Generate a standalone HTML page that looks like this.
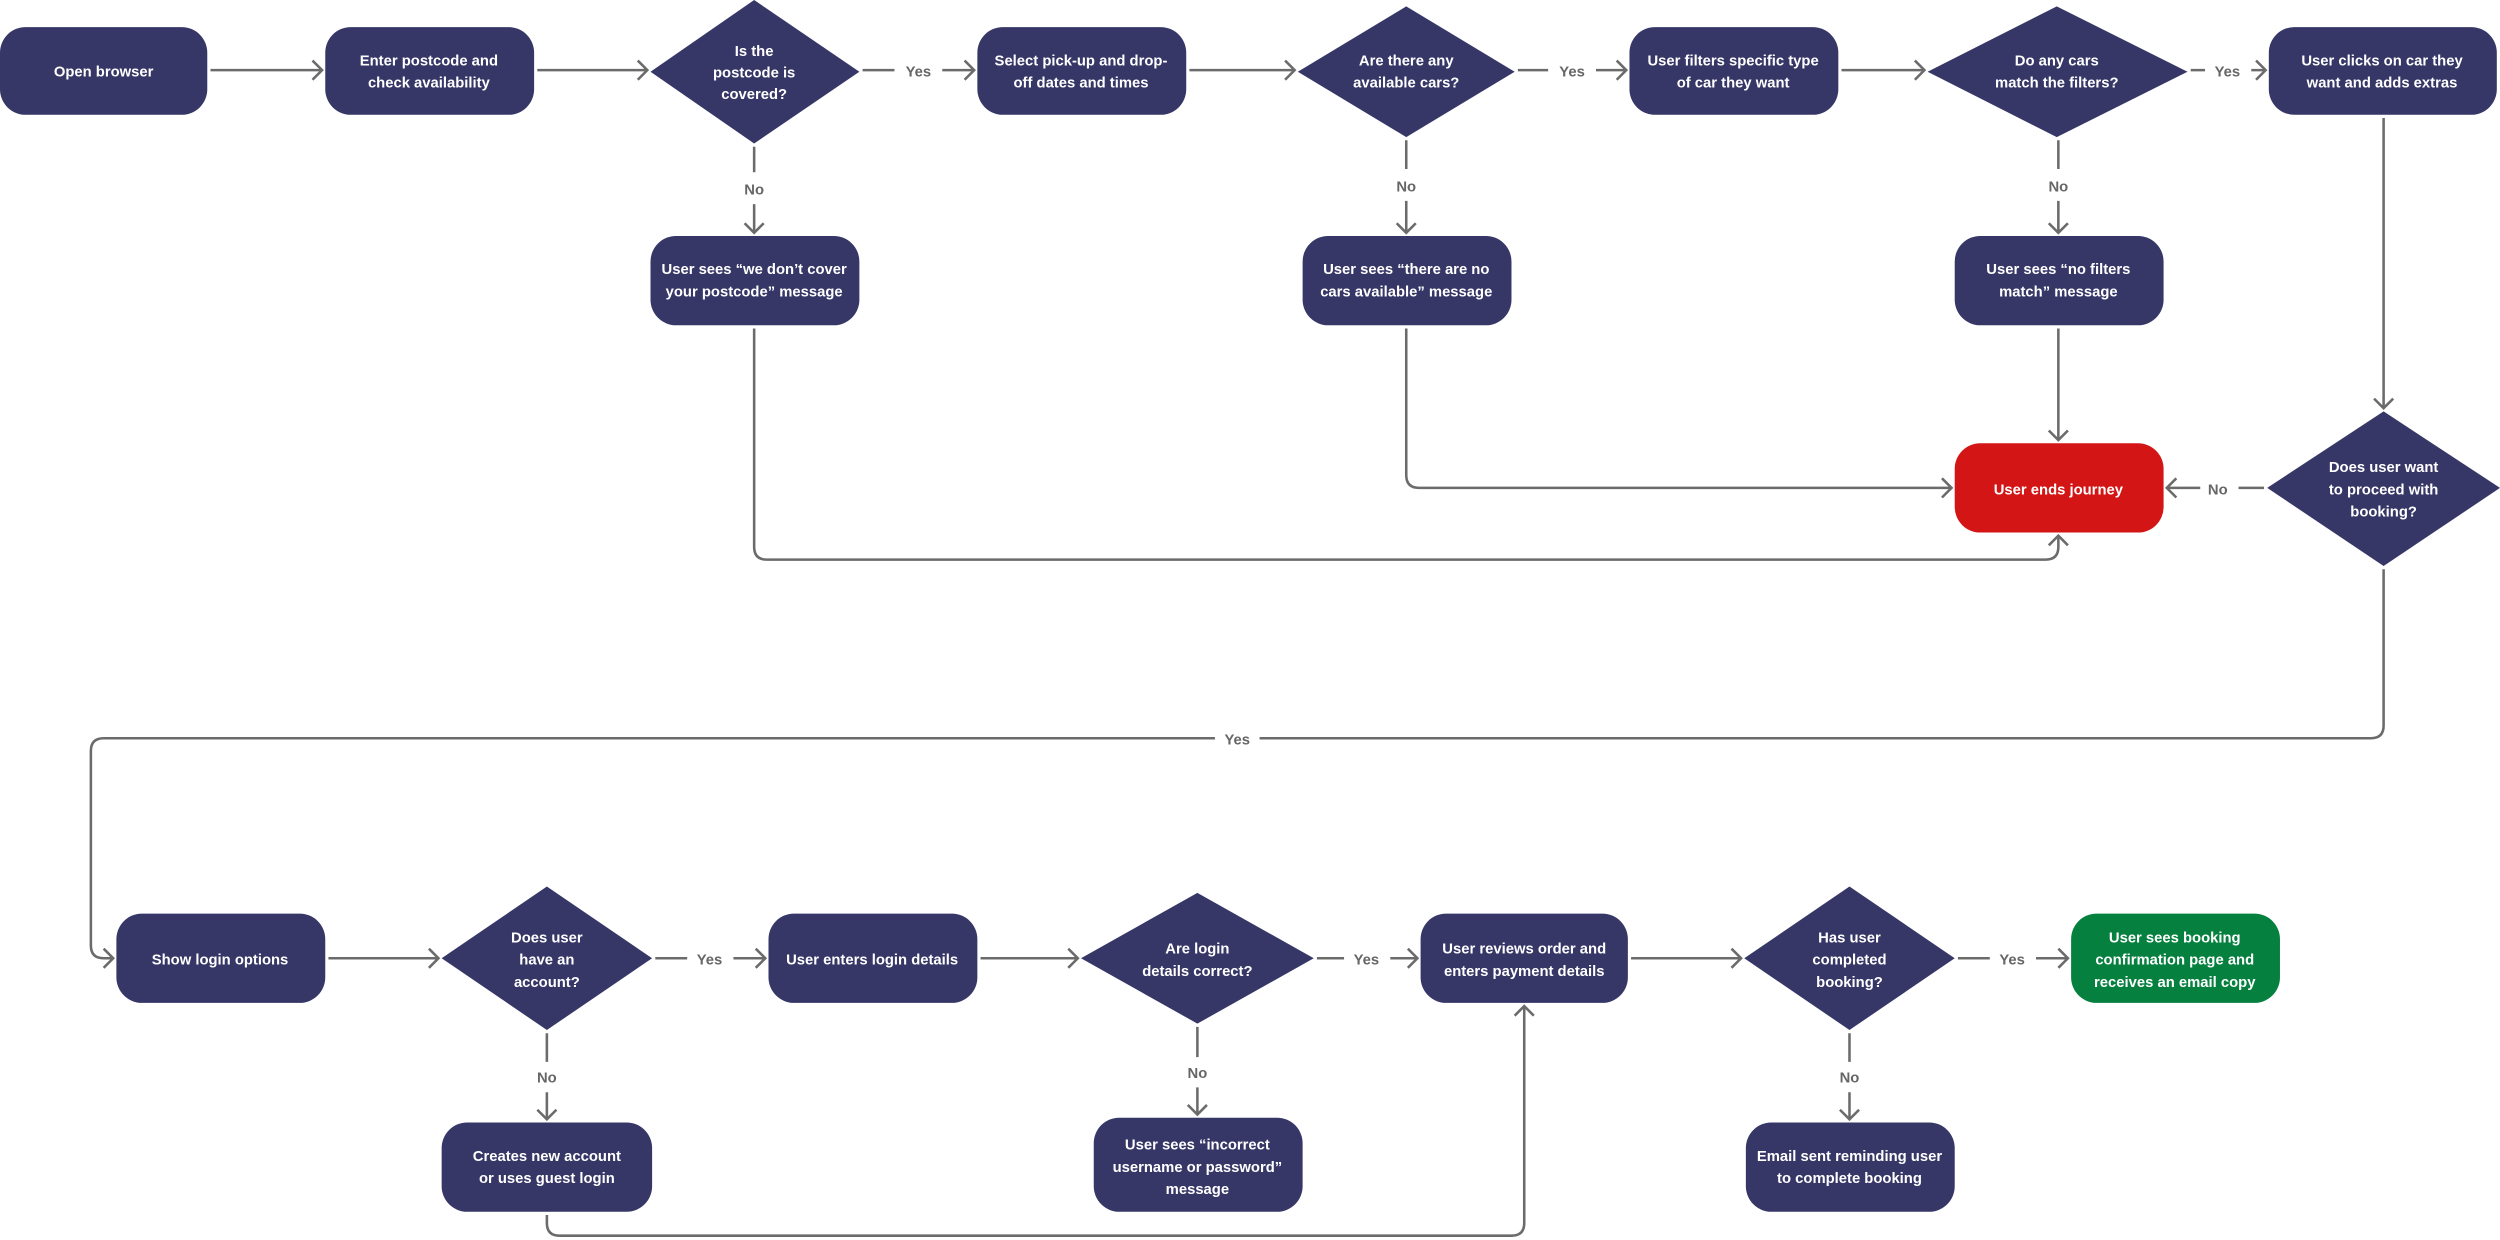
<!DOCTYPE html>
<html><head><meta charset="utf-8"><style>
html,body{margin:0;padding:0;background:#fff;}
svg{display:block;}
text{font-family:"Liberation Sans",sans-serif;font-weight:bold;}
.t{fill:#fff;font-size:9.3px;text-anchor:middle;}
.l{fill:#666;font-size:9.3px;text-anchor:middle;}
.ln{stroke:#6b6b6b;stroke-width:1.6;fill:none;}
</style></head><body>
<svg width="2500" height="1240" viewBox="0 0 1568 777.7" preserveAspectRatio="none" xmlns="http://www.w3.org/2000/svg">
<defs>
<marker id="a" markerUnits="userSpaceOnUse" markerWidth="14" markerHeight="16" refX="9" refY="8" orient="auto">
<path d="M3,2 L9,8 L3,14" fill="none" stroke="#6b6b6b" stroke-width="1.6"/>
</marker>
</defs>
<g fill="#363767">
<rect x="0" y="17" width="130" height="55" rx="16"/>
<rect x="204" y="17" width="131" height="55" rx="16"/>
<polygon points="473,0 539,45 473,90 408,45"/>
<rect x="613" y="17" width="131" height="55" rx="16"/>
<polygon points="882,4 950,45 882,86 814,45"/>
<rect x="1022" y="17" width="131" height="55" rx="16"/>
<polygon points="1290,4 1372,45 1290,86 1209,45"/>
<rect x="1423" y="17" width="143" height="55" rx="16"/>
<rect x="408" y="148" width="131" height="56" rx="16"/>
<rect x="817" y="148" width="131" height="56" rx="16"/>
<rect x="1226" y="148" width="131" height="56" rx="16"/>
<polygon points="1495,258 1568,306 1495,355 1422,306"/>
<rect x="73" y="573" width="131" height="56" rx="16"/>
<polygon points="343,556 409,601 343,646 277,601"/>
<rect x="482" y="573" width="131" height="56" rx="16"/>
<polygon points="751,560 824,601 751,642 678,601"/>
<rect x="891" y="573" width="130" height="56" rx="16"/>
<polygon points="1160,556 1226,601 1160,646 1094,601"/>
<rect x="277" y="704" width="132" height="56" rx="16"/>
<rect x="686" y="701" width="131" height="59" rx="16"/>
<rect x="1095" y="704" width="131" height="56" rx="16"/>
</g>
<rect x="1226" y="278" width="131" height="56" rx="16" fill="#d41515"/>
<rect x="1299" y="573" width="131" height="56" rx="16" fill="#05803f"/>

<g class="ln">
<path d="M132,44 H202" marker-end="url(#a)"/>
<path d="M337,44 H406" marker-end="url(#a)"/>
<path d="M541,44 H561 M591,44 H611" marker-end="url(#a)"/>
<path d="M746,44 H812" marker-end="url(#a)"/>
<path d="M952,44 H971 M1001,44 H1020" marker-end="url(#a)"/>
<path d="M1155,44 H1207" marker-end="url(#a)"/>
<path d="M1374,44 H1383 M1412,44 H1421" marker-end="url(#a)"/>
<path d="M473,92 V108 M473,128 V146" marker-end="url(#a)"/>
<path d="M882,88 V106 M882,126 V146" marker-end="url(#a)"/>
<path d="M1291,88 V106 M1291,126 V146" marker-end="url(#a)"/>
<path d="M473,206 V343 Q473,351 481,351 H1283 Q1291,351 1291,343 V336" marker-end="url(#a)"/>
<path d="M882,206 V298 Q882,306 890,306 H1224" marker-end="url(#a)"/>
<path d="M1291,206 V276" marker-end="url(#a)"/>
<path d="M1495,74 V256" marker-end="url(#a)"/>
<path d="M1420,306 H1404 M1380,306 H1359" marker-end="url(#a)"/>
<path d="M1495,357 V455 Q1495,463 1487,463 H790 M762,463 H65 Q57,463 57,471 V593 Q57,601 65,601 H71" marker-end="url(#a)"/>
<path d="M206,601 H275" marker-end="url(#a)"/>
<path d="M411,601 H431 M460,601 H480" marker-end="url(#a)"/>
<path d="M615,601 H676" marker-end="url(#a)"/>
<path d="M826,601 H843 M872,601 H889" marker-end="url(#a)"/>
<path d="M1023,601 H1092" marker-end="url(#a)"/>
<path d="M1228,601 H1248 M1277,601 H1297" marker-end="url(#a)"/>
<path d="M343,648 V666 M343,685 V702" marker-end="url(#a)"/>
<path d="M751,644 V663 M751,682 V699" marker-end="url(#a)"/>
<path d="M1160,648 V666 M1160,685 V702" marker-end="url(#a)"/>
<path d="M343,762 V767 Q343,775 351,775 H948 Q956,775 956,767 V631" marker-end="url(#a)"/>
</g>

<g class="l">
<text x="576" y="48">Yes</text>
<text x="986" y="48">Yes</text>
<text x="1397" y="48">Yes</text>
<text x="473" y="122">No</text>
<text x="882" y="120">No</text>
<text x="1291" y="120">No</text>
<text x="1391" y="310">No</text>
<text x="776" y="467">Yes</text>
<text x="445" y="605">Yes</text>
<text x="857" y="605">Yes</text>
<text x="1262" y="605">Yes</text>
<text x="343" y="679">No</text>
<text x="751" y="676">No</text>
<text x="1160" y="679">No</text>
</g>

<g class="t">
<text x="65" y="48">Open browser</text>
<text x="269" y="41">Enter postcode and</text><text x="269" y="55">check availability</text>
<text x="473" y="35">Is the</text><text x="473" y="48.5">postcode is</text><text x="473" y="62">covered?</text>
<text x="678" y="41">Select pick-up and drop-</text><text x="678" y="55">off dates and times</text>
<text x="882" y="41">Are there any</text><text x="882" y="55">available cars?</text>
<text x="1087" y="41">User filters specific type</text><text x="1087" y="55">of car they want</text>
<text x="1290" y="41">Do any cars</text><text x="1290" y="55">match the filters?</text>
<text x="1494" y="41">User clicks on car they</text><text x="1494" y="55">want and adds extras</text>
<text x="473" y="172">User sees “we don’t cover</text><text x="473" y="186">your postcode” message</text>
<text x="882" y="172">User sees “there are no</text><text x="882" y="186">cars available” message</text>
<text x="1291" y="172">User sees “no filters</text><text x="1291" y="186">match” message</text>
<text x="1291" y="310">User ends journey</text>
<text x="1495" y="296">Does user want</text><text x="1495" y="310">to proceed with</text><text x="1495" y="324">booking?</text>
<text x="138" y="605">Show login options</text>
<text x="343" y="591">Does user</text><text x="343" y="605">have an</text><text x="343" y="619">account?</text>
<text x="547" y="605">User enters login details</text>
<text x="751" y="598">Are login</text><text x="751" y="612">details correct?</text>
<text x="956" y="598">User reviews order and</text><text x="956" y="612">enters payment details</text>
<text x="1160" y="591">Has user</text><text x="1160" y="605">completed</text><text x="1160" y="619">booking?</text>
<text x="1364" y="591">User sees booking</text><text x="1364" y="605">confirmation page and</text><text x="1364" y="619">receives an email copy</text>
<text x="343" y="728">Creates new account</text><text x="343" y="742">or uses guest login</text>
<text x="751" y="721">User sees “incorrect</text><text x="751" y="735">username or password”</text><text x="751" y="749">message</text>
<text x="1160" y="728">Email sent reminding user</text><text x="1160" y="742">to complete booking</text>
</g>
</svg>
</body></html>
